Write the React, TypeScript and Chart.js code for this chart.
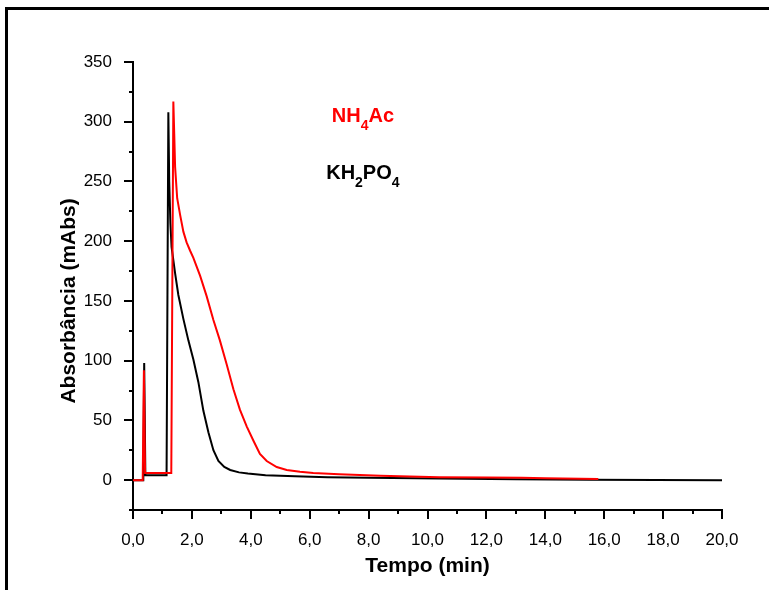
import React, { useEffect, useRef } from "react";
import { Chart, registerables } from "chart.js";

Chart.register(...registerables);

// ---- data ----
const blackX = [0, 0.35, 0.38, 0.42, 1.14, 1.2, 1.23, 1.27, 1.31, 1.43, 1.54, 1.71, 1.88, 2.05, 2.22, 2.39, 2.56, 2.73, 2.9, 3.1, 3.3, 3.6, 3.9, 4.5, 5.5, 6.6, 8.0, 10.4, 13.0, 15.5, 20.0];
const blackY = [0, 0, 98, 4, 4, 308, 250, 215, 195, 173, 155, 135, 117, 101, 82, 58, 40, 25, 16, 11, 8.5, 6.5, 5.5, 4, 3.2, 2.5, 2, 1.4, 0.8, 0.3, 0];

const redX = [0, 0.33, 0.37, 0.41, 1.3, 1.37, 1.4, 1.43, 1.5, 1.6, 1.71, 1.82, 1.94, 2.05, 2.28, 2.5, 2.73, 2.95, 3.18, 3.41, 3.63, 3.86, 4.09, 4.31, 4.54, 4.88, 5.22, 5.67, 6.12, 7.0, 8.4, 10.4, 12.0, 13.2, 14.0, 15.8];
const redY = [0, 0, 92, 6, 6, 317, 290, 262, 236, 222, 208, 199, 192, 186, 171, 154, 134, 117, 97, 76, 59, 45, 33, 22, 16, 11, 8.5, 7, 6, 5, 3.6, 2.4, 2.2, 2, 1.5, 1];

const seriesNames = ["NH4Ac", "KH2PO4"];
const xTitle = "Tempo (min)";
const yTitle = "Absorbância (mAbs)";

const X_MIN = 0;
const X_MAX = 20;
const X_STEP = 1;
const Y_MIN = -25;
const Y_MAX = 350;
const Y_STEP = 25;

// formula labels: [text, isSubscript]
const labelNH4Ac: [string, boolean][] = [["NH", false], ["4", true], ["Ac", false]];
const labelKH2PO4: [string, boolean][] = [["KH", false], ["2", true], ["PO", false], ["4", true]];
const labelNH4AcPos = { x: 6.75, y: 300 };
const labelKH2PO4Pos = { x: 6.56, y: 252 };

const FONT = "'Liberation Sans', Arial, Helvetica, sans-serif";

function drawFormula(ctx: CanvasRenderingContext2D, parts: [string, boolean][], x: number, y: number, color: string) {
  let cx = x;
  ctx.fillStyle = color;
  ctx.textAlign = "left";
  ctx.textBaseline = "alphabetic";
  for (const [t, sub] of parts) {
    ctx.font = sub ? `bold 14px ${FONT}` : `bold 20px ${FONT}`;
    ctx.fillText(t, cx, sub ? y + 8 : y);
    cx += ctx.measureText(t).width;
  }
}

const decor = {
  id: "decor",
  beforeDraw(chart: any) {
    const ctx = chart.ctx;
    ctx.save();
    ctx.fillStyle = "#fff";
    ctx.fillRect(0, 0, chart.width, chart.height);
    ctx.restore();
  },
  afterDraw(chart: any) {
    const ctx: CanvasRenderingContext2D = chart.ctx;
    const xs = chart.scales.x;
    const ys = chart.scales.y;
    const area = chart.chartArea;
    ctx.save();
    // frame
    ctx.fillStyle = "#000";
    ctx.fillRect(5, 7, 3, chart.height - 7);
    ctx.fillRect(5, 7, chart.width - 5, 3);
    // ticks
    ctx.strokeStyle = "#000";
    ctx.lineWidth = 2;
    for (let v = X_MIN; v <= X_MAX + 1e-9; v += X_STEP) {
      const px = Math.round(xs.getPixelForValue(v));
      const len = Math.round(v) % 2 === 0 ? 9 : 4;
      ctx.beginPath();
      ctx.moveTo(px, area.bottom);
      ctx.lineTo(px, area.bottom + len);
      ctx.stroke();
    }
    for (let v = Y_MIN; v <= Y_MAX + 1e-9; v += Y_STEP) {
      const py = Math.round(ys.getPixelForValue(v));
      const len = v % 50 === 0 ? 9 : 4;
      ctx.beginPath();
      ctx.moveTo(area.left, py);
      ctx.lineTo(area.left - len, py);
      ctx.stroke();
    }
    // y axis title
    ctx.save();
    ctx.translate(69, ys.getPixelForValue(150));
    ctx.rotate(-Math.PI / 2);
    ctx.font = `bold 21px ${FONT}`;
    ctx.fillStyle = "#000";
    ctx.textAlign = "center";
    ctx.textBaseline = "middle";
    ctx.fillText(yTitle, 0, 0);
    ctx.restore();
    // formula labels
    drawFormula(ctx, labelNH4Ac, xs.getPixelForValue(labelNH4AcPos.x), ys.getPixelForValue(labelNH4AcPos.y), "#ff0000");
    drawFormula(ctx, labelKH2PO4, xs.getPixelForValue(labelKH2PO4Pos.x), ys.getPixelForValue(labelKH2PO4Pos.y), "#000000");
    ctx.restore();
  },
};

export default function App() {
  const ref = useRef<HTMLCanvasElement | null>(null);
  useEffect(() => {
    if (!ref.current) return;
    const chart = new Chart(ref.current, {
      type: "line",
      data: {
        datasets: [
          {
            label: seriesNames[0],
            data: redX.map((x, i) => ({ x, y: redY[i] })),
            borderColor: "#ff0000",
            borderWidth: 2,
            pointRadius: 0,
            tension: 0,
            fill: false,
            order: 0,
          },
          {
            label: seriesNames[1],
            data: blackX.map((x, i) => ({ x, y: blackY[i] })),
            borderColor: "#000000",
            borderWidth: 2,
            pointRadius: 0,
            tension: 0,
            fill: false,
            order: 1,
          },
        ],
      },
      options: {
        animation: false,
        responsive: false,
        devicePixelRatio: 1,
        layout: { padding: { top: 62, right: 47, bottom: 0, left: 0 } },
        plugins: { legend: { display: false }, tooltip: { enabled: false } },
        scales: {
          x: {
            type: "linear",
            min: X_MIN,
            max: X_MAX,
            afterFit: (s: any) => {
              s.height = 80;
            },
            grid: { display: false },
            border: { display: true, color: "#000", width: 2 },
            ticks: {
              stepSize: X_STEP,
              autoSkip: false,
              maxRotation: 0,
              padding: 12,
              color: "#000",
              font: { family: FONT, size: 17 },
              callback: (v: any) => (Math.round(v) % 2 === 0 ? Number(v).toFixed(1).replace(".", ",") : ""),
            },
            title: {
              display: true,
              text: xTitle,
              color: "#000",
              font: { family: FONT, size: 21, weight: "bold" },
              padding: { top: 0, bottom: 11 },
            },
          },
          y: {
            type: "linear",
            min: Y_MIN,
            max: Y_MAX,
            afterFit: (s: any) => {
              s.width = 133;
            },
            grid: { display: false },
            border: { display: true, color: "#000", width: 2 },
            ticks: {
              stepSize: Y_STEP,
              autoSkip: false,
              padding: 13,
              color: "#000",
              font: { family: FONT, size: 17 },
              callback: (v: any) => (Number(v) % 50 === 0 ? String(v) : ""),
            },
            title: { display: false },
          },
        },
      },
      plugins: [decor],
    });
    return () => chart.destroy();
  }, []);
  return (
    <div style={{ position: "fixed", left: 0, top: 0, width: 769, height: 590, background: "#fff" }}>
      <canvas ref={ref} width={769} height={590} style={{ display: "block", width: 769, height: 590 }} />
    </div>
  );
}
